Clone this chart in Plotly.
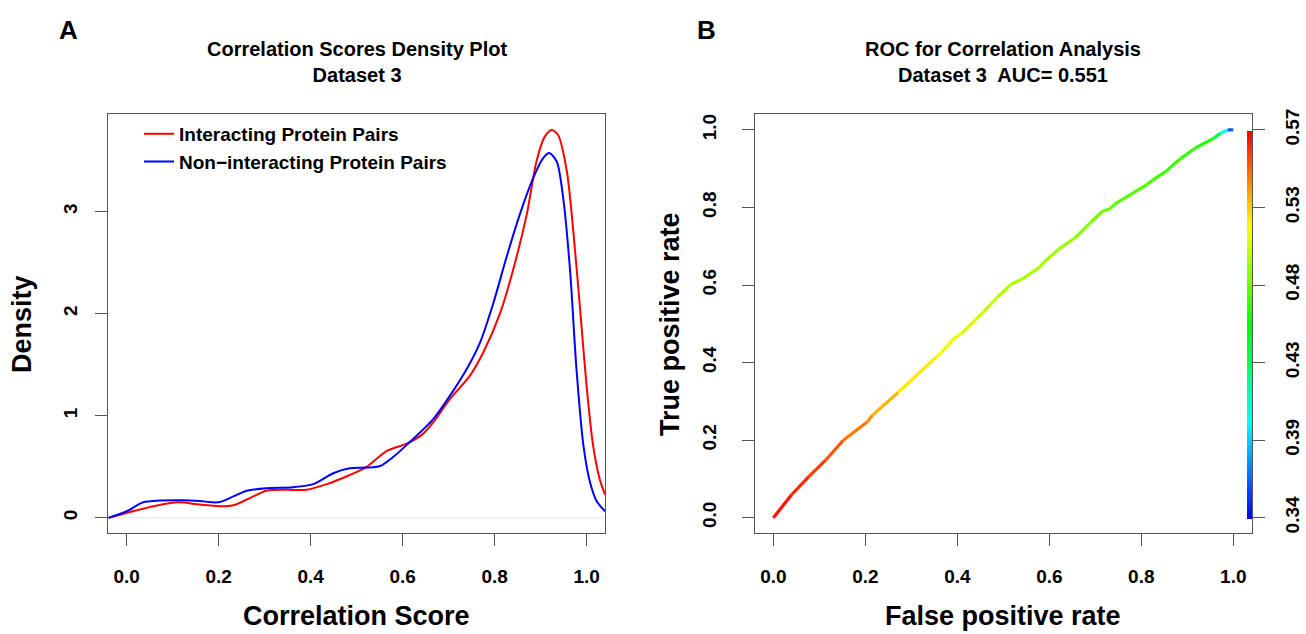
import colorsys
import plotly.graph_objects as go

# ---------------- Data ----------------
# Panel A: density curves (Correlation score vs density)
int_x = [-0.04, 0.036, 0.109, 0.159, 0.21, 0.232, 0.268, 0.304, 0.348, 0.391, 0.435, 0.485,
         0.522, 0.565, 0.609, 0.645, 0.667, 0.703, 0.746, 0.775, 0.812, 0.840, 0.870, 0.891,
         0.909, 0.924, 0.938, 0.957, 0.971, 0.986, 1.0, 1.014, 1.028, 1.04]
int_y = [0.0, 0.09, 0.152, 0.13, 0.113, 0.123, 0.194, 0.266, 0.275, 0.275, 0.33, 0.42,
         0.50, 0.654, 0.727, 0.825, 0.938, 1.164, 1.39, 1.617, 2.005, 2.425, 2.975, 3.49,
         3.734, 3.80, 3.75, 3.395, 2.81, 2.037, 1.29, 0.712, 0.388, 0.227]

non_x = [-0.04, 0.0, 0.036, 0.072, 0.123, 0.159, 0.199, 0.232, 0.261, 0.304, 0.362, 0.406,
         0.449, 0.485, 0.522, 0.551, 0.580, 0.616, 0.667, 0.703, 0.739, 0.768, 0.797, 0.826,
         0.855, 0.884, 0.906, 0.919, 0.935, 0.949, 0.964, 0.978, 0.993, 1.007, 1.022, 1.04]
non_y = [0.0, 0.065, 0.152, 0.169, 0.172, 0.165, 0.152, 0.21, 0.266, 0.291, 0.30, 0.33,
         0.437, 0.485, 0.492, 0.508, 0.598, 0.744, 0.97, 1.197, 1.455, 1.714, 2.10, 2.555,
         2.975, 3.33, 3.525, 3.573, 3.49, 3.137, 2.425, 1.455, 0.712, 0.356, 0.162, 0.065]

series_names = ["Interacting Protein Pairs", "Non\u2212interacting Protein Pairs"]

# Panel B: ROC curve with cutoff values
roc_fpr = [0.0, 0.040, 0.077, 0.114, 0.152, 0.204, 0.215, 0.271, 0.353, 0.365, 0.391, 0.409,
           0.458, 0.488, 0.518, 0.540, 0.578, 0.589, 0.622, 0.656, 0.690, 0.716, 0.731, 0.742,
           0.813, 0.824, 0.854, 0.884, 0.917, 0.958, 0.973, 0.988, 1.0]
roc_tpr = [0.0, 0.060, 0.106, 0.149, 0.200, 0.247, 0.264, 0.323, 0.413, 0.426, 0.460, 0.475,
           0.532, 0.570, 0.603, 0.615, 0.645, 0.660, 0.694, 0.722, 0.762, 0.791, 0.796, 0.809,
           0.860, 0.870, 0.894, 0.925, 0.953, 0.979, 0.992, 1.0, 1.0]
roc_cut = [0.572, 0.565, 0.561, 0.556, 0.550, 0.540, 0.538, 0.525, 0.514, 0.513, 0.510, 0.508,
           0.502, 0.499, 0.497, 0.496, 0.495, 0.494, 0.492, 0.489, 0.485, 0.482, 0.480, 0.479,
           0.474, 0.473, 0.471, 0.469, 0.466, 0.462, 0.420, 0.385, 0.342]

cb_min, cb_max = 0.342, 0.572
cb_tickpos = [0.0, 0.2, 0.4, 0.6, 0.8, 1.0]
cb_ticktext = ["0.34", "0.39", "0.43", "0.48", "0.53", "0.57"]

x_ticks = [0.0, 0.2, 0.4, 0.6, 0.8, 1.0]
x_ticktext = ["0.0", "0.2", "0.4", "0.6", "0.8", "1.0"]
yA_ticks = [0, 1, 2, 3]
yB_ticks = [0.0, 0.2, 0.4, 0.6, 0.8, 1.0]
yB_ticktext = ["0.0", "0.2", "0.4", "0.6", "0.8", "1.0"]

# ---------------- Figure ----------------
W, H = 1306, 634
FONT = "Liberation Sans, Arial, Helvetica, sans-serif"
AXC = "#555555"


def px(xs):
    return xs / W


def py(ys):
    return (H - ys) / H


def rainbow(c):
    frac = (cb_max - c) / (cb_max - cb_min)
    frac = min(max(frac, 0.0), 1.0)
    r, g, b = colorsys.hsv_to_rgb(frac * 4.0 / 6.0, 1.0, 1.0)
    return "rgb(%d,%d,%d)" % (round(r * 255), round(g * 255), round(b * 255))


fig = go.Figure()

fig.add_trace(go.Scatter(x=int_x, y=int_y, mode="lines", name=series_names[0],
                         line=dict(color="#ff0000", width=2, shape="spline", smoothing=0.8),
                         xaxis="x", yaxis="y", hoverinfo="skip"))
fig.add_trace(go.Scatter(x=non_x, y=non_y, mode="lines", name=series_names[1],
                         line=dict(color="#0000ff", width=2, shape="spline", smoothing=0.8),
                         xaxis="x", yaxis="y", hoverinfo="skip"))

for i in range(len(roc_fpr) - 1):
    c = 0.5 * (roc_cut[i] + roc_cut[i + 1])
    fig.add_trace(go.Scatter(x=roc_fpr[i:i + 2], y=roc_tpr[i:i + 2], mode="lines",
                             line=dict(color=rainbow(c), width=3.2),
                             xaxis="x2", yaxis="y2", showlegend=False, hoverinfo="skip"))

rainbow_scale = [[0.0, "rgb(0,0,255)"], [0.25, "rgb(0,255,255)"], [0.5, "rgb(0,255,0)"],
                 [0.75, "rgb(255,255,0)"], [1.0, "rgb(255,0,0)"]]
fig.add_trace(go.Scatter(
    x=[roc_fpr[0]], y=[roc_tpr[0]], mode="markers", xaxis="x2", yaxis="y2",
    showlegend=False, hoverinfo="skip",
    marker=dict(size=0.1, opacity=0, color=[roc_cut[0]], colorscale=rainbow_scale,
                cmin=cb_min, cmax=cb_max, showscale=True,
                colorbar=dict(x=px(1246.7), xanchor="left", xref="paper",
                              y=py(322.5), yanchor="middle", yref="paper",
                              len=391.6 / H, lenmode="fraction",
                              thickness=5, thicknessmode="pixels",
                              xpad=0, ypad=0, outlinewidth=0,
                              showticklabels=False, ticks=""))))

tickfont = dict(family=FONT, size=19, color="black", weight="bold")
common_axis = dict(showgrid=False, zeroline=False, showline=True, mirror=True,
                   linecolor=AXC, linewidth=1, ticks="outside", ticklen=12,
                   tickcolor=AXC, tickwidth=1, tickfont=tickfont)

xA = [px(108.3), px(605.0)]
xB = [px(755.0), px(1251.7)]
yD = [py(532.3), py(109.5)]

fig.update_layout(
    width=W, height=H,
    margin=dict(l=0, r=0, t=0, b=0),
    paper_bgcolor="white", plot_bgcolor="white",
    font=dict(family=FONT, color="black"),
    xaxis=dict(domain=xA, range=[-0.04, 1.04], tickvals=x_ticks, ticktext=x_ticktext,
               anchor="y", ticklabelstandoff=14, **common_axis),
    yaxis=dict(domain=yD, range=[-0.151, 3.951], tickvals=yA_ticks, tickangle=-90,
               anchor="x", ticklabelstandoff=11, **common_axis),
    xaxis2=dict(domain=xB, range=[-0.04, 1.04], tickvals=x_ticks, ticktext=x_ticktext,
                anchor="y2", ticklabelstandoff=14, **common_axis),
    yaxis2=dict(domain=yD, range=[-0.04, 1.04], tickvals=yB_ticks, ticktext=yB_ticktext,
                tickangle=-90, anchor="x2", ticklabelstandoff=18, **common_axis),
    yaxis3=dict(domain=yD, range=[-0.04, 1.04], tickvals=cb_tickpos, ticktext=cb_ticktext,
                tickangle=-90, overlaying="y2", side="right", anchor="x2",
                showgrid=False, zeroline=False, showline=False, ticks="outside",
                ticklen=12, tickcolor=AXC, tickwidth=1, tickfont=tickfont,
                ticklabelstandoff=11),
    showlegend=True,
    legend=dict(x=px(139), y=py(110), xanchor="left", yanchor="top",
                bgcolor="rgba(0,0,0,0)", borderwidth=0,
                font=dict(family=FONT, size=19, color="black", weight="bold"),
                tracegroupgap=0),
)

# dummy trace to activate yaxis3
fig.add_trace(go.Scatter(x=[None], y=[None], xaxis="x2", yaxis="y3", showlegend=False,
                         hoverinfo="skip"))

# zero line for density plot
fig.add_shape(type="line", xref="x domain", yref="y", x0=0, x1=1, y0=0, y1=0,
              line=dict(color="#e8e8e8", width=1), layer="below")


def ann(text, x, y, size, angle=0):
    fig.add_annotation(text=text, x=px(x), y=py(y), xref="paper", yref="paper",
                       showarrow=False, textangle=angle, xanchor="center", yanchor="middle",
                       font=dict(family=FONT, size=size, color="black"))


ann("<b>A</b>", 68.5, 24, 26)
ann("<b>B</b>", 706, 24, 26)
ann("<b>Correlation Scores Density Plot<br>Dataset 3</b>", 356.7, 56.5, 20)
ann("<b>ROC for Correlation Analysis<br>Dataset 3  AUC= 0.551</b>", 1003.3, 56.5, 20)
ann("<b>Density</b>", 22, 321, 27, -90)
ann("<b>Correlation Score</b>", 356.7, 616, 27)
ann("<b>True positive rate</b>", 670, 321, 27, -90)
ann("<b>False positive rate</b>", 1003.3, 616, 27)

# remove the browser's default page margin so the figure fills the window exactly
fig.write_html("out.html",
               config={"displayModeBar": False},
               post_script="document.body.style.margin='0';document.body.style.overflow='hidden';")
